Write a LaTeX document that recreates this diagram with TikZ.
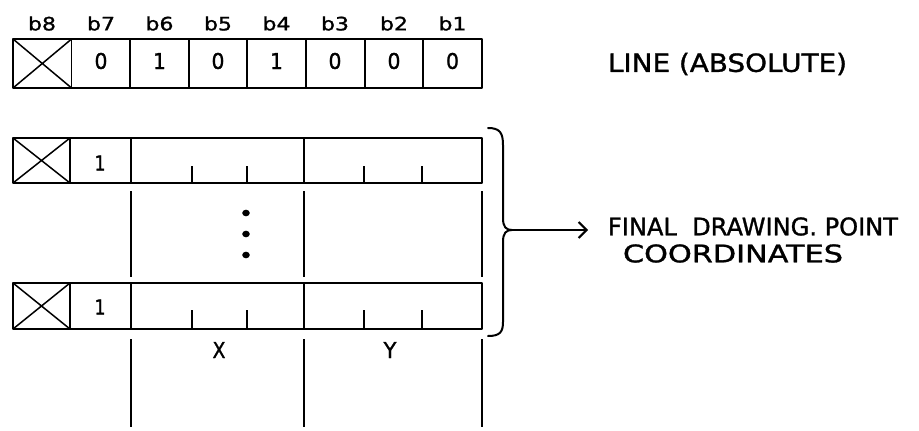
\documentclass[tikz,border=0pt]{standalone}
\usepackage{fontspec}
\usepackage{graphicx}
\setmainfont{DejaVu Sans}[FakeBold=1.2]
\usetikzlibrary{arrows.meta}
\newcommand\fittext[3]{\resizebox{#1pt}{#2pt}{#3}}
\begin{document}
\begin{tikzpicture}[x=1pt,y=-1pt,
  outer/.style={line width=2.6pt, line join=round},
  divider/.style={line width=1.7pt},
  tick/.style={line width=1.5pt},
  crossln/.style={line width=1.5pt},
  lbl/.style={inner sep=0pt, anchor=center},
  blbl/.style={lbl, font=\fontsize{17}{17}\selectfont},
  digit/.style={lbl, font=\fontsize{19}{19}\selectfont},
]
\useasboundingbox (0,0) rectangle (919,431);
% ---------- top register ----------
\foreach \n/\x in {8/42,7/101,6/159.5,5/218,4/276.5,3/335,2/394,1/452.5}
  \node[blbl] (b\n) at (\x,23.5) {\fittext{28}{14}{b\n}};
\draw[outer] (13,39) rectangle (482,88);
\foreach \x in {71.6,130,189,247,306,365,423}
  \draw[divider] (\x,39) -- (\x,88);
\draw[crossln] (13,39) -- (71.6,88) (13,88) -- (71.6,39);
\foreach \v/\x [count=\i] in {0/101,1/159.5,0/218,1/276.5,0/335,0/394,0/452.5}
  \node[digit] (d\i) at (\x,61) {\fittext{13}{16}{\v}};
\node[lbl] (line) at (727.5,64) {\fittext{239}{19}{LINE (ABSOLUTE)}};
% ---------- row 2 ----------
\draw[outer] (13,138) rectangle (482,183);
\draw[divider] (70,138) -- (70,183);
\draw[crossln] (13,138) -- (70,183) (13,183) -- (70,138);
\draw[divider] (131,138) -- (131,183) (304,138) -- (304,183);
\foreach \x in {192,247,364,422} \draw[tick] (\x,166) -- (\x,183);
\node[digit] (r2one) at (100,163) {\fittext{11}{15}{1}};
% middle verticals and dots
\foreach \x in {131,304,482} \draw[divider] (\x,191) -- (\x,277);
\foreach \y in {213,234,255} \fill (246,\y) ellipse (3.8pt and 3.3pt);
% ---------- row 3 ----------
\draw[outer] (13,283) rectangle (482,329);
\draw[divider] (70,283) -- (70,329);
\draw[crossln] (13,283) -- (70,329) (13,329) -- (70,283);
\draw[divider] (131,283) -- (131,329) (304,283) -- (304,329);
\foreach \x in {192,247,364,422} \draw[tick] (\x,310) -- (\x,329);
\node[digit] (r3one) at (100,307) {\fittext{11}{15}{1}};
% lower verticals and X / Y
\foreach \x in {131,304,482} \draw[divider] (\x,339) -- (\x,427);
\node[digit] (xl) at (219,350) {\fittext{13}{16}{X}};
\node[digit] (yl) at (390,350) {\fittext{13}{16}{Y}};
% ---------- brace and arrow ----------
\coordinate (btop) at (488,128);
\coordinate (btip) at (512,230);
\coordinate (bbot) at (488,336);
\draw[line width=2pt, line cap=round]
  (btop) .. controls (500,128) and (503,133) .. (503,145)
  -- (503,218) .. controls (503,227) and (506,230) .. (btip)
  .. controls (506,230) and (503,233) .. (503,242)
  -- (503,322) .. controls (503,332) and (500,336) .. (bbot);
\node[lbl] (final) at (753,226.5) {\fittext{290}{18}{FINAL\ \ DRAWING. POINT}};
\node[lbl] (coord) at (733,253.5) {\fittext{220}{18}{COORDINATES}};
\draw[line width=2.6pt, -{Straight Barb[length=8pt,width=16pt,line width=2pt]}]
  (btip) -- (588,230);
\end{tikzpicture}
\end{document}
